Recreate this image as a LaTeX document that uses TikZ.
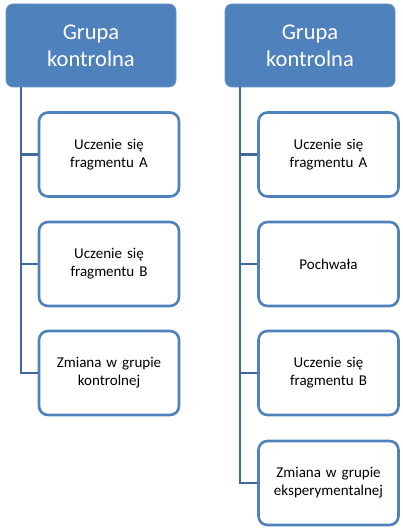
\documentclass[tikz,border=0pt]{standalone}
\usepackage{fontspec}
\setmainfont{Carlito}
\definecolor{hdr}{HTML}{4F81BD}
\definecolor{bord}{HTML}{4F81BD}
\definecolor{conn}{HTML}{41689A}
\begin{document}
\begin{tikzpicture}[x=1pt,y=-1pt,
  header/.style={draw=hdr!85!white, line width=0.8pt, fill=hdr, rounded corners=7pt,
    minimum width=170pt, minimum height=83pt, text=white, align=center,
    font=\fontsize{22.5}{27}\selectfont, inner sep=0pt},
  child/.style={draw=bord, line width=2.6pt, fill=white, rounded corners=9pt,
    minimum width=140pt, minimum height=84pt, align=center, text width=136pt,
    font=\fontsize{15}{18}\selectfont, inner sep=0pt},
  link/.style={draw=conn, line width=2.8pt}]
\useasboundingbox (0,0) rectangle (403,529);
% left tree
\node[header] (hl) at (91,45.5) {Grupa\\kontrolna};
\node[child] (l1) at (109,154.5) {Uczenie się\\fragmentu A};
\node[child] (l2) at (109,264) {Uczenie się\\fragmentu B};
\node[child] (l3) at (109,373) {Zmiana w grupie\\kontrolnej};
\coordinate (lt) at (21,87.5);
\draw[link] (lt) |- (l1.west);
\draw[link] (lt) |- (l2.west);
\draw[link] (lt) |- (l3.west);
% right tree
\node[header] (hr) at (310,45.5) {Grupa\\kontrolna};
\node[child] (r1) at (328.5,154.5) {Uczenie się\\fragmentu A};
\node[child] (r2) at (328.5,264) {Pochwała};
\node[child] (r3) at (328.5,373) {Uczenie się\\fragmentu B};
\node[child] (r4) at (328.5,483) {Zmiana w grupie\\eksperymentalnej};
\coordinate (rt) at (240,87.5);
\draw[link] (rt) |- (r1.west);
\draw[link] (rt) |- (r2.west);
\draw[link] (rt) |- (r3.west);
\draw[link] (rt) |- (r4.west);
\end{tikzpicture}
\end{document}
